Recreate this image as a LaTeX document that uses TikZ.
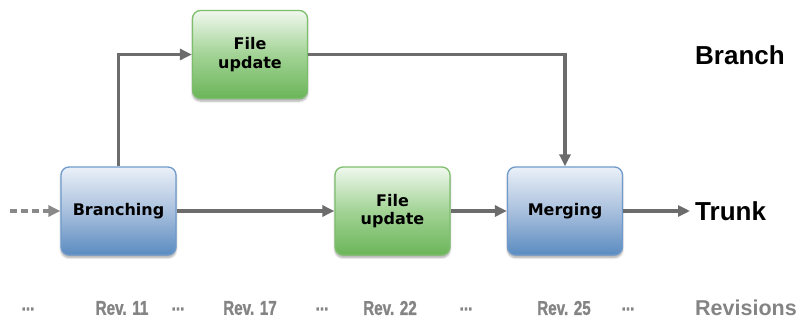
\documentclass[tikz,border=0pt]{standalone}
\usepackage{fontspec}
\setmainfont{Liberation Sans}
\newfontfamily\boxfont{DejaVu Sans}[BoldFont={DejaVu Sans Bold}]
\newfontfamily\revfont{Liberation Sans Bold}[FakeStretch=0.76,FakeBold=1.2]
\usetikzlibrary{arrows.meta,shadows.blur}
\definecolor{linegray}{HTML}{6C6C6C}
\definecolor{revgray}{HTML}{848484}
\definecolor{bluetop}{HTML}{EAF0F8}
\definecolor{bluemid}{HTML}{A9C0DD}
\definecolor{bluebot}{HTML}{5A8BC0}
\definecolor{blueedge}{HTML}{6F9ACB}
\definecolor{greentop}{HTML}{F0F8EE}
\definecolor{greenmid}{HTML}{A2D395}
\definecolor{greenbot}{HTML}{6BB559}
\definecolor{greenedge}{HTML}{7DBE6C}
\tikzset{
  procbox/.style={rounded corners=8pt, minimum width=115pt, minimum height=88pt,
    line width=1.3pt, align=center, inner sep=0pt,
    font=\boxfont\bfseries\fontsize{16}{18.5}\selectfont,
    blur shadow={shadow xshift=0pt, shadow yshift=-2.5pt, shadow blur steps=6, shadow opacity=35}},
  bluebox/.style={procbox, draw=blueedge, top color=bluetop, bottom color=bluebot, middle color=bluemid},
  greenbox/.style={procbox, draw=greenedge, top color=greentop, bottom color=greenbot, middle color=greenmid},
  flow/.style={draw=linegray, line width=3.2pt, -{Triangle[length=12pt,width=11pt]}},
  lanelabel/.style={font=\bfseries\fontsize{26}{30}\selectfont, anchor=west, inner sep=0pt},
  revlabel/.style={font=\revfont\fontsize{20}{22}\selectfont, text=revgray, inner sep=0pt},
}
\begin{document}
\begin{tikzpicture}[x=1pt,y=-1pt]
  \useasboundingbox (0,0) rectangle (800,321);

  % process boxes
  \node[bluebox]  (branching) at (118.5,211) {Branching};
  \node[greenbox] (upd1)      at (250,54.5)  {File\\update};
  \node[greenbox] (upd2)      at (392.5,211) {File\\update};
  \node[bluebox]  (merging)   at (565,211)   {Merging};

  % free ends of the trunk line
  \coordinate (start) at (10,211);
  \coordinate (trunkend) at (690,211);

  % connectors
  \draw[flow, dash pattern=on 7pt off 4pt, draw=linegray!80] (start) -- (branching.west);
  \draw[flow] (branching.north) |- (upd1.west);
  \draw[flow] (upd1.east) -| (merging.north);
  \draw[flow] (branching.east) -- (upd2.west);
  \draw[flow] (upd2.east) -- (merging.west);
  \draw[flow] (merging.east) -- (trunkend);

  % lane labels
  \node[lanelabel] (branchlbl) at (695,55) {Branch};
  \node[lanelabel] (trunklbl)  at (695,211) {Trunk};

  % revision axis
  \node[revlabel] (d0)  at (28,309)  {...};
  \node[revlabel] (r11) at (122,308) {Rev. 11};
  \node[revlabel] (d1)  at (178,309) {...};
  \node[revlabel] (r17) at (250,308) {Rev. 17};
  \node[revlabel] (d2)  at (322,309) {...};
  \node[revlabel] (r22) at (390,308) {Rev. 22};
  \node[revlabel] (d3)  at (466,309) {...};
  \node[revlabel] (r25) at (564,308) {Rev. 25};
  \node[revlabel] (d4)  at (628,309) {...};
  \node[font=\bfseries\fontsize{21.5}{23}\selectfont, text=revgray, inner sep=0pt, anchor=west] (revs) at (695,308) {Revisions};
\end{tikzpicture}
\end{document}
